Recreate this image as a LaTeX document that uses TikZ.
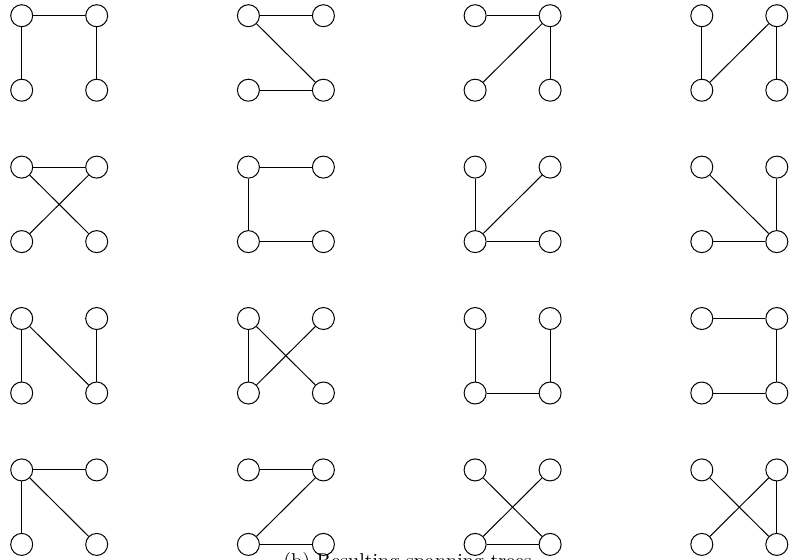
\documentclass[tikz,border=0pt]{standalone}
\tikzset{
    vert/.style={circle, draw, line width=0.5pt, minimum size=11pt, inner sep=0pt},
    edge/.style={line width=0.5pt}
}
\begin{document}
\begin{tikzpicture}[x=0.5pt, y=-0.5pt]
    \useasboundingbox (0,0) rectangle (790,559);
    % a b
    % c d   one tree per panel
    \foreach \n/\col/\row/\edges in {
        1/0/0/{a/b,a/c,b/d}, 2/1/0/{a/b,a/d,c/d}, 3/2/0/{a/b,b/c,b/d}, 4/3/0/{a/c,c/b,b/d},
        5/0/1/{a/b,a/d,b/c}, 6/1/1/{a/b,a/c,c/d}, 7/2/1/{a/c,c/b,c/d}, 8/3/1/{a/d,b/d,c/d},
        9/0/2/{a/c,a/d,b/d}, 10/1/2/{a/c,a/d,c/b}, 11/2/2/{a/c,c/d,b/d}, 12/3/2/{a/b,b/d,c/d},
        13/0/3/{a/b,a/c,a/d}, 14/1/3/{a/b,b/c,c/d}, 15/2/3/{a/d,b/c,c/d}, 16/3/3/{a/d,b/c,b/d}}{
        \pgfmathsetmacro{\px}{21.7+226.7*\col}
        \pgfmathsetmacro{\py}{15.7+151.4*\row}
        \node[vert] (a\n) at (\px,\py) {};
        \node[vert] (b\n) at (\px+75,\py) {};
        \node[vert] (c\n) at (\px,\py+74.5) {};
        \node[vert] (d\n) at (\px+75,\py+74.5) {};
        \foreach \u/\v in \edges {
            \draw[edge] (\u\n) -- (\v\n);
        }
    }
    \node[anchor=base west, inner sep=0pt] (caption) at (283,567) {(b) Resulting spanning trees};
\end{tikzpicture}
\end{document}
